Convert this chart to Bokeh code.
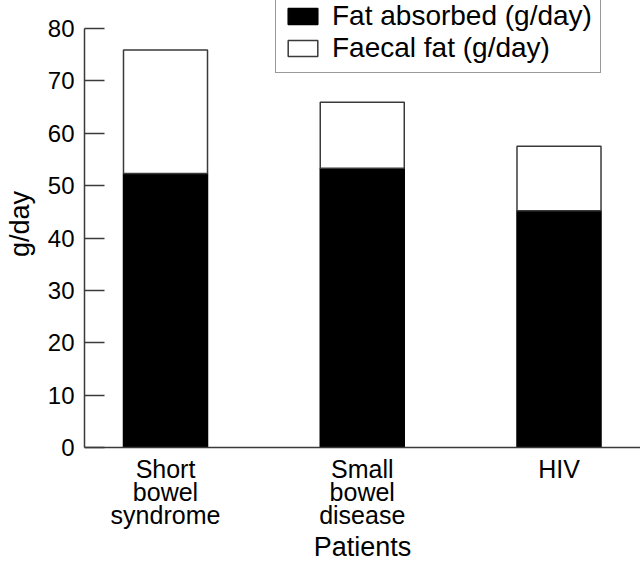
from bokeh.plotting import figure
from bokeh.models import ColumnDataSource, Range1d, FixedTicker, Legend
from bokeh.embed import file_html
from bokeh.resources import INLINE

# ---- data ----
categories = ["Short\nbowel\nsyndrome", "Small\nbowel\ndisease", "HIV"]
positions = [1, 2, 3]
fat_absorbed = [52.3, 53.3, 45.2]
faecal_fat = [23.6, 12.6, 12.3]
series_names = ["Fat absorbed (g/day)", "Faecal fat (g/day)"]
y_ticks = [0, 10, 20, 30, 40, 50, 60, 70, 80]

FONT = "Liberation Sans"

source = ColumnDataSource(dict(x=positions, absorbed=fat_absorbed, faecal=faecal_fat))

# frame spans the full height above the x axis so the legend is not clipped;
# the y axis itself is bounded to 0..80
p = figure(width=640, height=566, output_backend="svg", toolbar_location=None,
           x_range=Range1d(0.5883, 3.4142), y_range=Range1d(0, 85.35),
           min_border_left=84, min_border_right=0, min_border_top=0, min_border_bottom=119)
p.background_fill_color = "white"
p.border_fill_color = "white"
p.outline_line_color = None
p.xgrid.grid_line_color = None
p.ygrid.grid_line_color = None

renderers = p.vbar_stack(["absorbed", "faecal"], x="x", width=0.427, source=source,
                         fill_color=["black", "white"], line_color=["black", "#3a3a3a"],
                         line_width=1.5)

legend = Legend(items=[(series_names[0], [renderers[0]]), (series_names[1], [renderers[1]])],
                location=(191, 374))
legend.glyph_width = 37
legend.glyph_height = 20
legend.label_standoff = 11
legend.padding = 8
legend.spacing = -3
legend.margin = 0
legend.label_text_font = FONT
legend.label_text_font_size = "28px"
legend.label_text_color = "black"
legend.border_line_color = "#333333"
legend.border_line_width = 1.5
legend.background_fill_color = "white"
legend.background_fill_alpha = 1.0
p.add_layout(legend)

# y axis
ya = p.yaxis[0]
ya.ticker = FixedTicker(ticks=y_ticks)
ya.bounds = (0, 80)
ya.major_tick_in = 20
ya.major_tick_out = 0
ya.minor_tick_line_color = None
ya.major_tick_line_width = 1.5
ya.major_tick_line_color = "#3a3a3a"
ya.axis_line_color = "#3a3a3a"
ya.axis_line_width = 1.5
ya.major_label_standoff = 10
ya.major_label_text_font = FONT
ya.major_label_text_font_size = "24px"
ya.major_label_text_color = "black"
ya.axis_label = "g/day"
ya.axis_label_text_font = FONT
ya.axis_label_text_font_size = "27px"
ya.axis_label_text_font_style = "normal"
ya.axis_label_text_color = "black"
ya.axis_label_standoff = 10

# x axis
xa = p.xaxis[0]
xa.ticker = FixedTicker(ticks=positions)
xa.major_label_overrides = {pos: lab for pos, lab in zip(positions, categories)}
xa.major_tick_in = 0
xa.major_tick_out = 0
xa.major_tick_line_color = None
xa.minor_tick_line_color = None
xa.axis_line_color = "#3a3a3a"
xa.axis_line_width = 1.5
xa.major_label_standoff = 7
xa.major_label_text_font = FONT
xa.major_label_text_font_size = "25px"
xa.major_label_text_color = "black"
xa.major_label_text_line_height = 0.83
xa.axis_label = "Patients"
xa.axis_label_text_font = FONT
xa.axis_label_text_font_size = "27px"
xa.axis_label_text_font_style = "normal"
xa.axis_label_text_color = "black"
xa.axis_label_standoff = 0

open("out.html", "w").write(file_html(p, INLINE))
